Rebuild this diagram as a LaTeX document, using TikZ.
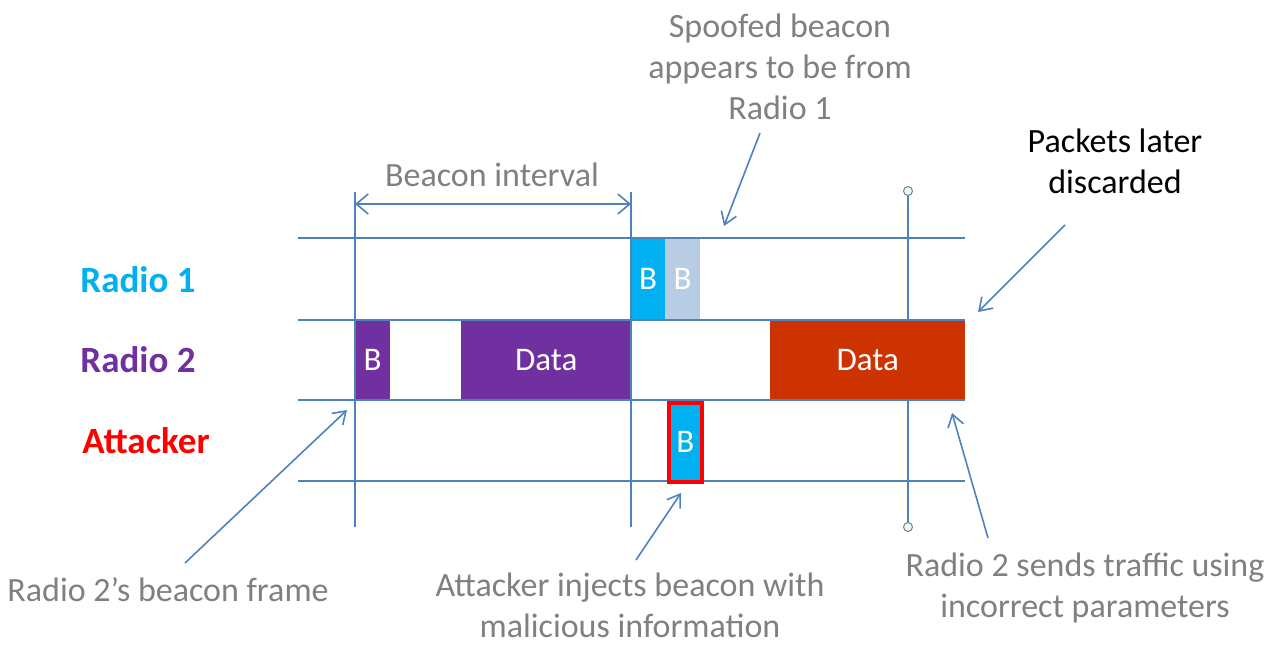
\documentclass[tikz,border=0pt]{standalone}
\usepackage{fontspec}
\setmainfont{Carlito}
\usetikzlibrary{arrows.meta}
\definecolor{lineblue}{HTML}{4F81BD}
\definecolor{txtgray}{HTML}{808080}
\definecolor{cyanb}{HTML}{00B0F0}
\definecolor{lightb}{HTML}{B8CCE4}
\definecolor{purp}{HTML}{7030A0}
\definecolor{redd}{HTML}{CC3300}
\begin{document}
\begin{tikzpicture}[x=1pt,y=-1pt,
  grid/.style={draw=lineblue,line width=1.8pt},
  slot/.style={inner sep=0pt,anchor=north west,text=white,font=\fontsize{33}{38}\selectfont},
  lab/.style={font=\fontsize{34}{41}\selectfont,text=txtgray,align=center,inner sep=0pt},
  rowlab/.style={font=\bfseries\fontsize{37}{42}\selectfont},
  callout/.style={draw=lineblue,line width=1.6pt,-{Straight Barb[length=12pt,width=16pt,line width=1.6pt]}},
  knob/.style={circle,draw=gray,fill=cyan!10,line width=1pt,minimum size=9pt,inner sep=0pt}]
\useasboundingbox (0,0) rectangle (1283,645);
% vertical marker line with knobs
\node[knob] (k1) at (908,191) {};
\node[knob] (k2) at (908,527) {};
\draw[grid] (k1) -- (k2);
% slots
\node[slot,fill=cyanb,minimum width=34pt,minimum height=82pt] (r1b) at (631,238) {B};
\node[slot,fill=lightb,minimum width=35pt,minimum height=82pt] (r1s) at (665,238) {B};
\node[slot,fill=purp,minimum width=35pt,minimum height=80pt] (r2b) at (355,320) {B};
\node[slot,fill=purp,minimum width=170pt,minimum height=80pt] (r2d) at (461,320) {Data};
\node[slot,fill=redd,minimum width=195pt,minimum height=80pt] (r2x) at (770,320) {Data};
% horizontal lines
\foreach \y/\n in {238/a,320/b,400/c,481/d}{
  \coordinate (hl\n) at (298,\y); \coordinate (hr\n) at (965,\y);
  \draw[grid] (hl\n) -- (hr\n);}
% vertical lines
\coordinate (v1t) at (355,192); \coordinate (v1b) at (355,527);
\coordinate (v2t) at (631,192); \coordinate (v2b) at (631,527);
\draw[grid] (v1t) -- (v1b);
\draw[grid] (v2t) -- (v2b);
% attacker beacon
\node[slot,fill=cyanb,draw=red,line width=3.5pt,minimum width=33pt,minimum height=79pt] (atb) at (667,401) {B};
% beacon interval
\coordinate (bi1) at (355,204); \coordinate (bi2) at (631,204);
\draw[draw=lineblue,line width=1.6pt,{Straight Barb[length=12pt,width=20pt,line width=1.6pt]}-{Straight Barb[length=12pt,width=20pt,line width=1.6pt]}] (bi1) -- (bi2);
\node[lab] (bil) at (492,175) {Beacon interval};
% row labels
\node[rowlab,text=cyanb] (l1) at (138,280) {Radio 1};
\node[rowlab,text=purp] (l2) at (138,360) {Radio 2};
\node[rowlab,text=red] (l3) at (146,441) {Attacker};
% callouts
\node[lab] (sp) at (780,67) {Spoofed beacon\\appears to be from\\Radio 1};
\node[lab,text=black] (pk) at (1115,161) {Packets later\\discarded};
\node[lab] (rb) at (168,590) {Radio 2’s beacon frame};
\node[lab] (ai) at (630,605) {Attacker injects beacon with\\malicious information};
\node[lab] (rs) at (1085,588) {Radio 2 sends traffic using\\incorrect parameters};
\coordinate (spa) at (760,133); \coordinate (spb) at (724,226);
\coordinate (pka) at (1065,225); \coordinate (pkb) at (978,312);
\coordinate (rba) at (185,563); \coordinate (rbb) at (347,410);
\coordinate (aia) at (636,560); \coordinate (aib) at (681,493);
\coordinate (rsa) at (988,538); \coordinate (rsb) at (952,413);
\draw[callout] (spa) -- (spb);
\draw[callout] (pka) -- (pkb);
\draw[callout] (rba) -- (rbb);
\draw[callout] (aia) -- (aib);
\draw[callout] (rsa) -- (rsb);
\end{tikzpicture}
\end{document}
